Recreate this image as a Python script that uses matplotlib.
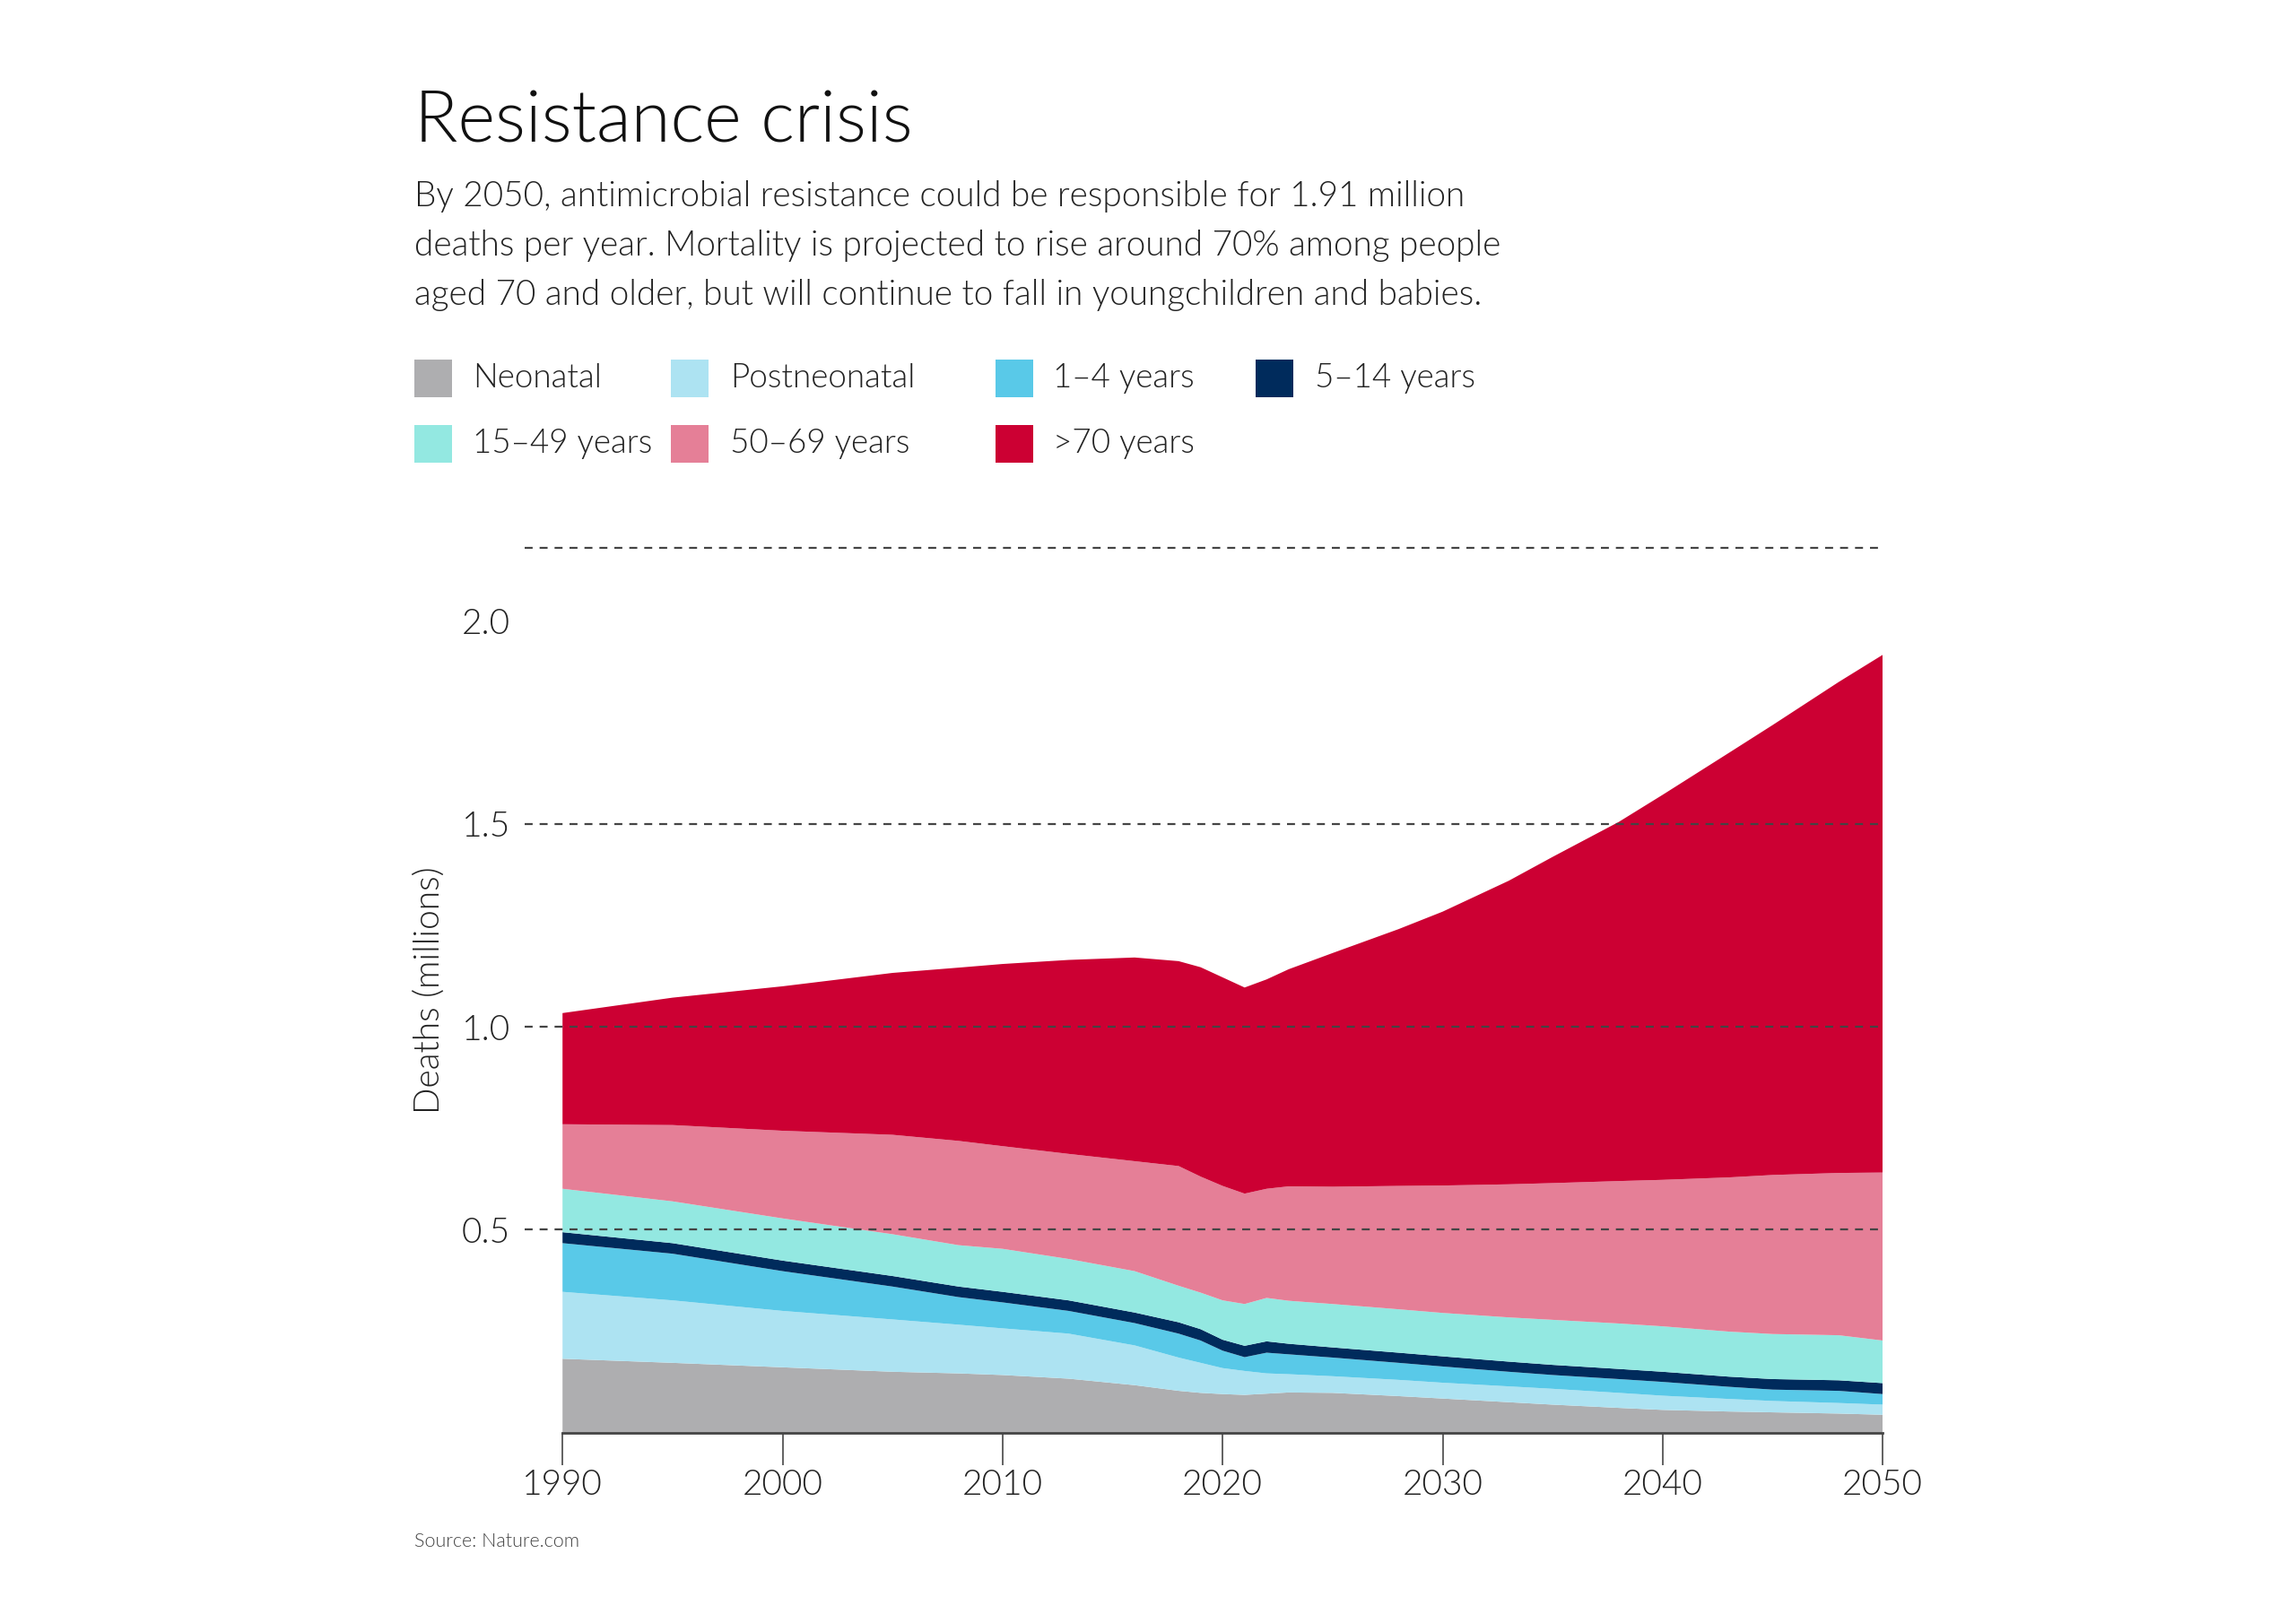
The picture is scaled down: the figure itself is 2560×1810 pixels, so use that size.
import numpy as np
import matplotlib
matplotlib.use("Agg")
import matplotlib.pyplot as plt
from matplotlib.patches import Rectangle

plt.rcParams['font.family'] = ['Lato', 'DejaVu Sans']
W = 300  # Lato Light

years = [1990, 1995, 2000, 2005, 2008, 2010, 2013, 2016, 2018, 2019, 2020,
         2021, 2022, 2023, 2025, 2028, 2030, 2033, 2035, 2038, 2040, 2043,
         2045, 2048, 2050]

# deaths in millions, per age group
neonatal = [0.182, 0.172, 0.161, 0.150, 0.146, 0.142, 0.133, 0.117, 0.103, 0.098, 0.095,
            0.093, 0.096, 0.099, 0.098, 0.090, 0.084, 0.075, 0.069, 0.061, 0.056, 0.052,
            0.050, 0.047, 0.044]
postneonatal = [0.165, 0.154, 0.139, 0.129, 0.120, 0.115, 0.111, 0.098, 0.082, 0.074, 0.064,
                0.059, 0.050, 0.045, 0.041, 0.040, 0.039, 0.039, 0.039, 0.037, 0.035, 0.031,
                0.028, 0.026, 0.025]
age1_4 = [0.120, 0.115, 0.098, 0.081, 0.068, 0.064, 0.056, 0.055, 0.059, 0.055, 0.043,
          0.034, 0.051, 0.049, 0.046, 0.042, 0.040, 0.036, 0.034, 0.034, 0.034, 0.030,
          0.028, 0.030, 0.026]
age5_14 = [0.027, 0.026, 0.026, 0.026, 0.026, 0.026, 0.026, 0.026, 0.028, 0.028, 0.027,
           0.028, 0.028, 0.026, 0.025, 0.025, 0.025, 0.025, 0.025, 0.025, 0.025, 0.025,
           0.026, 0.026, 0.027]
age15_49 = [0.107, 0.103, 0.104, 0.103, 0.102, 0.106, 0.102, 0.102, 0.090, 0.090, 0.097,
            0.103, 0.107, 0.106, 0.107, 0.107, 0.107, 0.109, 0.111, 0.112, 0.112, 0.111,
            0.111, 0.111, 0.105]
age50_69 = [0.159, 0.188, 0.216, 0.245, 0.257, 0.253, 0.259, 0.271, 0.295, 0.286, 0.282,
            0.272, 0.269, 0.282, 0.289, 0.304, 0.314, 0.328, 0.337, 0.351, 0.361, 0.380,
            0.392, 0.400, 0.414]
age70 = [0.274, 0.314, 0.356, 0.399, 0.427, 0.449, 0.478, 0.502, 0.505, 0.516, 0.514,
         0.508, 0.516, 0.535, 0.576, 0.633, 0.675, 0.748, 0.804, 0.885, 0.949, 1.046,
         1.109, 1.210, 1.276]

labels = ["Neonatal", "Postneonatal", "1\u20134 years", "5\u201314 years",
          "15\u201349 years", "50\u201369 years", ">70 years"]
colors = ["#AEAEB0", "#ADE3F2", "#59C9E8", "#002B5C", "#93E8E1", "#E57F97", "#CC0033"]

yticks = [0.5, 1.0, 1.5, 2.0]
gridlines = [0.5, 1.0, 1.5, 2.18]
xticks = [1990, 2000, 2010, 2020, 2030, 2040, 2050]

fig = plt.figure(figsize=(25.6, 18.1), dpi=100)
ax = fig.add_axes([0.245, 0.1173, 0.575, 0.545])

ax.stackplot(years, neonatal, postneonatal, age1_4, age5_14, age15_49, age50_69, age70,
             colors=colors, linewidth=0, zorder=1)

# dashed guide lines, drawn over the areas and a bit past the left edge
ax.hlines(gridlines, 1988.27, 2050, colors="#444444", linestyles=(0, (4, 3.5)),
          linewidth=1.6, clip_on=False, zorder=3)

ax.set_xlim(1990, 2050)
ax.set_ylim(0, 2.18)
for s in ["top", "right", "left"]:
    ax.spines[s].set_visible(False)
ax.spines["bottom"].set_color("#444444")
ax.spines["bottom"].set_linewidth(2)
ax.spines["bottom"].set_zorder(4)

ax.set_xticks(xticks)
ax.set_xticklabels([str(x) for x in xticks], fontsize=28, color="#222222", fontweight=W)
ax.tick_params(axis="x", length=26, width=1.3, color="#555555", pad=3)
ax.set_yticks(yticks)
ax.set_yticklabels(["%.1f" % v for v in yticks], fontsize=28, color="#222222", fontweight=W)
ax.tick_params(axis="y", length=0, pad=42)

fig.text(0.187, 0.39, "Deaths (millions)", rotation=90, ha="center", va="center",
         fontsize=28, color="#222222", fontweight=W)

# heading
fig.text(0.1805, 0.9125, "Resistance crisis", fontsize=57.5, color="#111111",
         fontweight=W, ha="left", va="baseline")
sub = ["By 2050, antimicrobial resistance could be responsible for 1.91 million",
       "deaths per year. Mortality is projected to rise around 70% among people",
       "aged 70 and older, but will continue to fall in youngchildren and babies."]
for i, line in enumerate(sub):
    fig.text(0.1805, 0.8727 - i * 0.0302, line, fontsize=27.9, color="#222222",
             fontweight=W, ha="left", va="baseline")

# legend, laid out by hand
sq_x = [0.1805, 0.292, 0.4337, 0.547]
tx_x = [0.206, 0.318, 0.4585, 0.5727]
row_y = [0.767, 0.7265]
sw, sh = 42 / 2560, 42 / 1810
for i, (lab, col) in enumerate(zip(labels, colors)):
    r, c = divmod(i, 4)
    fig.add_artist(Rectangle((sq_x[c], row_y[r] - sh / 2), sw, sh, facecolor=col,
                             edgecolor="none", transform=fig.transFigure))
    fig.text(tx_x[c], row_y[r], lab, fontsize=26.5, color="#222222", fontweight=W,
             ha="left", va="center")

fig.text(0.1805, 0.0505, "Source: Nature.com", fontsize=15.5, color="#444444",
         fontweight=W, ha="left", va="center")

fig.savefig("out.png", dpi=100, facecolor="white")
